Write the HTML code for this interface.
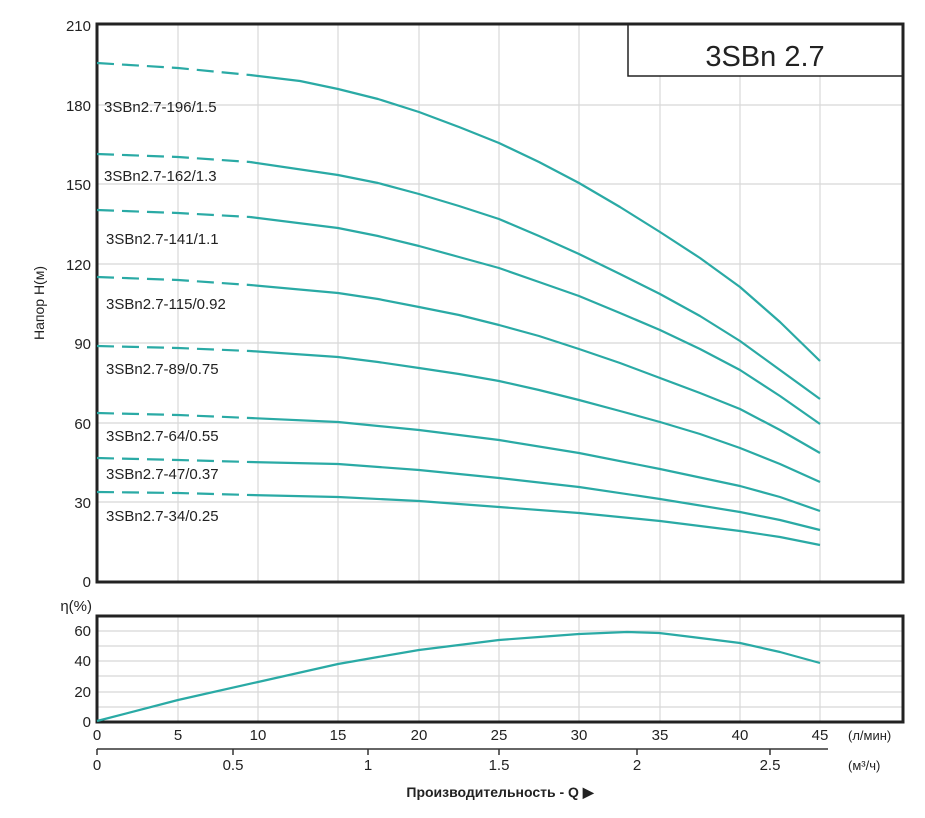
<!DOCTYPE html>
<html><head><meta charset="utf-8"><style>body{margin:0;background:#fff}svg{display:block;font-family:"Liberation Sans",sans-serif}</style></head><body>
<svg width="925" height="818" viewBox="0 0 925 818" xmlns="http://www.w3.org/2000/svg">
<g stroke="#d8d8d8" stroke-width="1.2">
<line x1="178" y1="24" x2="178" y2="582"/><line x1="258" y1="24" x2="258" y2="582"/><line x1="338" y1="24" x2="338" y2="582"/><line x1="419" y1="24" x2="419" y2="582"/><line x1="499" y1="24" x2="499" y2="582"/><line x1="579" y1="24" x2="579" y2="582"/><line x1="660" y1="24" x2="660" y2="582"/><line x1="740" y1="24" x2="740" y2="582"/><line x1="820" y1="24" x2="820" y2="582"/>
<line x1="97" y1="105" x2="903" y2="105"/><line x1="97" y1="184" x2="903" y2="184"/><line x1="97" y1="264" x2="903" y2="264"/><line x1="97" y1="343" x2="903" y2="343"/><line x1="97" y1="423" x2="903" y2="423"/><line x1="97" y1="502" x2="903" y2="502"/>
<line x1="178" y1="616" x2="178" y2="722"/><line x1="258" y1="616" x2="258" y2="722"/><line x1="338" y1="616" x2="338" y2="722"/><line x1="419" y1="616" x2="419" y2="722"/><line x1="499" y1="616" x2="499" y2="722"/><line x1="579" y1="616" x2="579" y2="722"/><line x1="660" y1="616" x2="660" y2="722"/><line x1="740" y1="616" x2="740" y2="722"/><line x1="820" y1="616" x2="820" y2="722"/>
<line x1="97" y1="631" x2="903" y2="631"/><line x1="97" y1="646" x2="903" y2="646"/><line x1="97" y1="661" x2="903" y2="661"/><line x1="97" y1="676" x2="903" y2="676"/><line x1="97" y1="692" x2="903" y2="692"/><line x1="97" y1="707" x2="903" y2="707"/>
</g>
<rect x="97" y="24" width="806" height="558" fill="none" stroke="#222" stroke-width="3"/>
<rect x="97" y="616" width="806" height="106" fill="none" stroke="#222" stroke-width="3"/>
<rect x="628" y="24" width="275" height="52" fill="#fff" stroke="#222" stroke-width="1.5"/>
<line x1="903" y1="24" x2="903" y2="76" stroke="#222" stroke-width="3"/>
<line x1="628" y1="24" x2="903" y2="24" stroke="#222" stroke-width="3"/>
<text x="765" y="66" font-size="29" text-anchor="middle" fill="#222">3SBn 2.7</text>
<g fill="none" stroke="#2aaaa5" stroke-width="2.2" stroke-linejoin="round">
<g stroke-dasharray="17,8">
<polyline points="97,63 178,68 250,75"/><polyline points="97,154 178,157 250,162"/><polyline points="97,210 178,213 250,217"/><polyline points="97,277 178,280 250,285"/><polyline points="97,346 178,348 250,351"/><polyline points="97,413 178,415 250,418"/><polyline points="97,458 178,460 250,462"/><polyline points="97,492 178,493 250,495"/>
</g>
<polyline points="250,75 300,81 338,89 378,99 419,112 459,127 499,143 539,162 579,183 620,207 660,232 700,258 740,287 780,322 820,361"/>
<polyline points="250,162 338,175 378,183 419,194 459,206 499,219 539,236 579,254 620,274 660,294 700,316 740,341 780,370 820,399"/>
<polyline points="250,217 338,228 378,236 419,246 459,257 499,268 539,282 579,296 620,313 660,330 700,349 740,370 780,396 820,424"/>
<polyline points="250,285 338,293 378,299 419,307 459,315 499,325 539,336 579,349 620,363 660,378 700,393 740,409 780,430 820,453"/>
<polyline points="250,351 338,357 378,362 419,368 459,374 499,381 539,390 579,400 620,411 660,422 700,434 740,448 780,464 820,482"/>
<polyline points="250,418 338,422 419,430 499,440 579,453 660,469 740,486 780,497 820,511"/>
<polyline points="250,462 338,464 419,470 499,478 579,487 660,499 740,512 780,520 820,530"/>
<polyline points="250,495 338,497 419,501 499,507 579,513 660,521 740,531 780,537 820,545"/>
<polyline points="97,721 178,700 258,682 338,664 378,657 419,650 459,645 499,640 539,637 579,634 627,632 659,633 692,637 740,643 780,652 820,663"/>
</g>
<g font-size="15" fill="#222">
<text x="104" y="112">3SBn2.7-196/1.5</text>
<text x="104" y="181">3SBn2.7-162/1.3</text>
<text x="106" y="244">3SBn2.7-141/1.1</text>
<text x="106" y="309">3SBn2.7-115/0.92</text>
<text x="106" y="374">3SBn2.7-89/0.75</text>
<text x="106" y="441">3SBn2.7-64/0.55</text>
<text x="106" y="479">3SBn2.7-47/0.37</text>
<text x="106" y="521">3SBn2.7-34/0.25</text>
</g>
<g font-size="15" fill="#222" text-anchor="end">
<text x="91" y="31">210</text><text x="91" y="111">180</text><text x="91" y="190">150</text><text x="91" y="270">120</text><text x="91" y="349">90</text><text x="91" y="429">60</text><text x="91" y="508">30</text><text x="91" y="587">0</text>
<text x="91" y="636">60</text><text x="91" y="666">40</text><text x="91" y="697">20</text><text x="91" y="727">0</text>
<text x="92" y="611">η(%)</text>
</g>
<text transform="translate(44,303) rotate(-90)" font-size="14" text-anchor="middle" fill="#222">Напор H(м)</text>
<g font-size="15" fill="#222" text-anchor="middle">
<text x="97" y="740">0</text><text x="178" y="740">5</text><text x="258" y="740">10</text><text x="338" y="740">15</text><text x="419" y="740">20</text><text x="499" y="740">25</text><text x="579" y="740">30</text><text x="660" y="740">35</text><text x="740" y="740">40</text><text x="820" y="740">45</text>
<text x="97" y="770">0</text><text x="233" y="770">0.5</text><text x="368" y="770">1</text><text x="499" y="770">1.5</text><text x="637" y="770">2</text><text x="770" y="770">2.5</text>
</g>
<text x="848" y="740" font-size="13" fill="#222">(л/мин)</text>
<text x="848" y="770" font-size="13" fill="#222">(м³/ч)</text>
<g stroke="#333" stroke-width="1.5"><line x1="97" y1="749" x2="828" y2="749"/><line x1="97" y1="749" x2="97" y2="755"/><line x1="233" y1="749" x2="233" y2="755"/><line x1="368" y1="749" x2="368" y2="755"/><line x1="499" y1="749" x2="499" y2="755"/><line x1="637" y1="749" x2="637" y2="755"/><line x1="770" y1="749" x2="770" y2="755"/></g>
<text x="500" y="797" font-size="14" text-anchor="middle" fill="#222" font-weight="bold">Производительность - Q ▶</text>
</svg>
</body></html>
